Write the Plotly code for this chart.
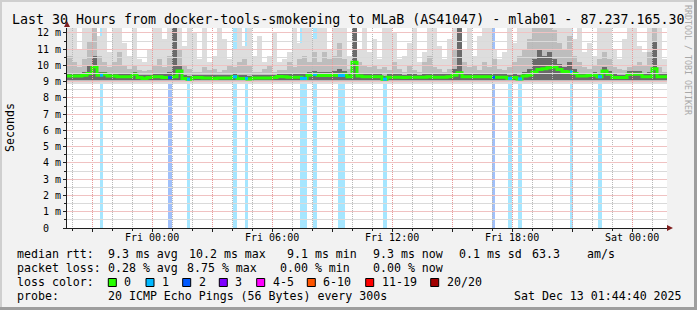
import pandas as pd
import plotly.graph_objects as go

# ---------------- data ----------------
START = "2025-12-11 19:44:40"
END = "2025-12-13 01:44:40"
BIN_MIN = 15  # minutes per smoke column

median_ms = [
    9.35, 9.35, 9.35, 9.40, 9.50, 9.90, 9.40, 9.45, 9.35, 9.35,
    9.30, 9.30, 9.30, 9.45, 9.25, 9.20, 9.25, 9.30, 9.30, 9.25,
    9.25, 9.30, 9.65, 9.20, 9.15, 9.25, 9.25, 9.22, 9.22, 9.20,
    9.22, 9.22, 9.22, 9.30, 9.20, 9.20, 9.17, 9.22, 9.22, 9.22,
    9.22, 9.25, 9.32, 9.30, 9.27, 9.27, 9.27, 9.20, 9.40, 9.45,
    9.38, 9.38, 9.38, 9.40, 9.38, 9.45, 9.30, 10.20, 9.35, 9.30,
    9.30, 9.30, 9.30, 9.15, 9.27, 9.27, 9.27, 9.25, 9.27, 9.27,
    9.27, 9.27, 9.30, 9.27, 9.27, 9.27, 9.30, 9.40, 9.55, 9.30,
    9.30, 9.30, 9.30, 9.30, 9.30, 9.27, 9.27, 9.27, 9.20, 9.25,
    9.17, 9.35, 9.40, 9.60, 9.75, 9.80, 9.85, 9.90, 9.75, 9.62,
    9.60, 9.50, 9.35, 9.35, 9.38, 9.40, 9.30, 9.65, 9.45, 9.25,
    9.25, 9.25, 9.45, 9.45, 9.45, 9.30, 9.30, 9.80, 9.30, 9.30,
]
smoke_p75 = [
    9.55, 9.50, 9.50, 9.60, 10.0, 10.6, 9.60, 9.60, 9.50, 9.50,
    9.50, 9.45, 9.45, 9.60, 9.40, 9.40, 9.40, 9.50, 9.50, 9.45,
    9.60, 12.4, 10.0, 9.40, 9.35, 9.40, 9.40, 9.40, 9.40, 9.40,
    9.40, 9.40, 9.40, 9.45, 9.40, 9.40, 9.35, 9.40, 9.40, 9.40,
    9.40, 9.40, 9.50, 9.45, 9.45, 9.45, 9.50, 9.45, 9.60, 9.65,
    9.60, 9.60, 9.60, 9.65, 9.80, 9.65, 9.50, 12.4, 9.55, 9.50,
    9.50, 9.50, 9.45, 9.35, 9.45, 9.45, 9.45, 9.40, 9.45, 9.45,
    9.40, 9.45, 9.50, 9.45, 9.45, 9.45, 9.50, 9.80, 12.4, 9.50,
    9.45, 9.50, 9.45, 9.50, 9.50, 9.45, 9.45, 9.45, 9.40, 9.45,
    9.40, 9.60, 9.80, 10.4, 11.0, 10.6, 10.8, 10.4, 10.1, 9.90,
    10.2, 9.80, 9.55, 9.55, 9.55, 9.60, 9.50, 9.90, 9.65, 9.45,
    9.40, 9.40, 9.65, 9.65, 9.65, 9.50, 9.60, 11.5, 9.50, 9.45,
]
smoke_p90 = [
    10.6, 10.2, 9.9, 10.4, 11.5, 12.4, 10.6, 10.2, 9.9, 10.2,
    10.8, 10.0, 9.8, 10.0, 9.7, 9.65, 9.7, 10.0, 10.4, 9.9,
    10.6, 12.4, 11.0, 10.0, 9.8, 9.6, 9.6, 9.9, 9.7, 9.8,
    9.6, 9.7, 10.0, 9.9, 10.2, 10.4, 10.0, 9.6, 9.6, 9.8,
    10.0, 9.6, 9.7, 9.7, 10.2, 9.9, 10.4, 10.6, 10.2, 10.8,
    10.2, 10.8, 10.4, 10.6, 11.4, 10.4, 9.8, 12.4, 10.2, 10.0,
    9.9, 10.0, 9.8, 9.9, 9.7, 10.2, 9.8, 9.6, 10.0, 9.7,
    9.6, 10.2, 10.6, 9.9, 9.8, 9.6, 9.8, 11.0, 12.4, 10.2,
    9.9, 10.0, 9.7, 10.2, 9.9, 10.4, 9.8, 9.7, 9.9, 10.2,
    10.6, 11.0, 11.6, 12.4, 12.4, 12.4, 12.4, 12.2, 11.4, 11.0,
    11.8, 10.6, 10.2, 9.9, 9.8, 10.0, 10.4, 10.8, 10.4, 9.9,
    9.8, 9.7, 9.9, 10.0, 10.2, 10.0, 10.8, 12.4, 9.9, 9.6,
]
smoke_max = [
    12.4, 12.4, 11.0, 12.4, 12.4, 12.4, 11.8, 12.4, 10.8, 12.4,
    12.4, 11.4, 10.6, 12.4, 10.4, 10.2, 11.0, 12.4, 12.4, 11.6,
    12.4, 12.4, 12.4, 11.2, 12.4, 12.0, 10.4, 12.4, 10.2, 10.6,
    12.4, 11.6, 10.4, 11.0, 12.4, 11.2, 12.4, 10.6, 11.8, 10.2,
    10.6, 12.0, 10.2, 10.4, 10.8, 12.4, 11.4, 12.4, 12.4, 11.6,
    12.4, 12.4, 11.0, 12.4, 12.4, 12.4, 10.6, 12.4, 11.0, 12.4,
    10.8, 11.6, 10.4, 12.4, 12.4, 12.0, 10.4, 10.6, 11.4, 12.4,
    10.2, 10.8, 12.4, 12.4, 11.2, 10.4, 11.6, 12.4, 12.4, 11.0,
    12.4, 10.6, 11.8, 12.4, 12.4, 11.0, 10.4, 10.8, 12.4, 11.4,
    12.4, 12.4, 12.4, 12.4, 12.4, 12.4, 12.4, 12.4, 12.4, 12.4,
    12.4, 11.6, 12.4, 10.8, 11.4, 10.6, 12.4, 12.4, 12.4, 11.0,
    10.4, 11.6, 12.4, 12.4, 11.2, 10.8, 12.4, 12.4, 12.4, 10.4,
]
# lower ping levels (fairly constant floor)
floor_light = 8.88
floor_mid = 8.98
floor_dark = 9.08

# packet loss events: minutes after start, duration (min), lost pings (of 20)
loss_start_min = [99, 303, 360, 498, 534, 699, 738, 813, 948, 1275, 1323, 1353, 1509, 1593]
loss_dur_min = [9, 12, 9, 12, 9, 21, 12, 21, 12, 9, 12, 12, 9, 12]
loss_count = [1, 2, 1, 1, 1, 1, 1, 1, 1, 2, 1, 1, 1, 1]

LOSS_LABELS = ["0", "1", "2", "3", "4-5", "6-10", "11-19", "20/20"]
LOSS_COLORS = ["#26ff00", "#00b8ff", "#0059ff", "#7e00ff", "#ff00ff", "#ff5500", "#ff0000", "#a10000"]
LOSS_SHADE = {1: "rgb(166,230,255)", 2: "rgb(160,192,250)"}

X_TICK_LABELS = ["", "Fri 00:00", "", "Fri 06:00", "", "Fri 12:00", "", "Fri 18:00", "", "Sat 00:00"]
Y_TICKS = [0, 1, 2, 3, 4, 5, 6, 7, 8, 9, 10, 11, 12]
Y_TICK_LABELS = ["0\u00a0\u00a0", "1 m", "2 m", "3 m", "4 m", "5 m", "6 m", "7 m",
                 "8 m", "9 m", "10 m", "11 m", "12 m"]
Y_MAX = 12.3

TITLE = "Last 30 Hours from docker-tools-smokeping to MLaB (AS41047) - mlab01 - 87.237.165.30"
RTT_ROW = ["median rtt:", "9.3 ms avg", "10.2 ms max", "9.1 ms min", "9.3 ms now", "0.1 ms sd", "63.3", "am/s"]
LOSS_ROW = ["packet loss:", "0.28 % avg", "8.75 % max", "0.00 % min", "0.00 % now"]
PROBE_ROW = ["probe:", "20 ICMP Echo Pings (56 Bytes) every 300s", "Sat Dec 13 01:44:40 2025"]

# ---------------- geometry ----------------
W, H = 697, 310
L, T, PW, PH = 67, 28, 600, 200
FONT = "DejaVu Sans Mono"


def px(x):
    return (x - L) / PW


def py(y):
    return (T + PH - y) / PH


t0 = pd.Timestamp(START)
t_end = pd.Timestamp(END)
n = len(median_ms)
bin_w = pd.Timedelta(minutes=BIN_MIN)
bin_starts = [t0 + bin_w * i for i in range(n)]
bin_centers = [b + bin_w / 2 for b in bin_starts]
bar_width_ms = BIN_MIN * 60 * 1000

fig = go.Figure()

# loss shading bars (full height)
for cnt in sorted(set(loss_count)):
    xs, ws = [], []
    for s, d, c in zip(loss_start_min, loss_dur_min, loss_count):
        if c == cnt:
            xs.append(t0 + pd.Timedelta(minutes=s + d / 2))
            ws.append(d * 60 * 1000)
    fig.add_trace(go.Bar(x=xs, y=[Y_MAX] * len(xs), base=0, width=ws,
                         marker=dict(color=LOSS_SHADE[cnt], line=dict(width=0)),
                         hoverinfo="skip"))

# smoke bands
for top, floor, col in [(smoke_max, floor_light, "#dddddd"),
                        (smoke_p90, floor_mid, "#bdbdbd"),
                        (smoke_p75, floor_dark, "#6a6a6a")]:
    fig.add_trace(go.Bar(x=bin_centers, y=[v - floor for v in top], base=floor,
                         width=bar_width_ms,
                         marker=dict(color=col, line=dict(width=0)),
                         hoverinfo="skip"))

# median line (green, loss 0)
fig.add_trace(go.Scatter(x=bin_starts + [t_end], y=median_ms + [median_ms[-1]],
                         mode="lines", line=dict(color=LOSS_COLORS[0], width=3, shape="hv"),
                         hoverinfo="skip"))

# median segments colored by loss
for cnt in sorted(set(loss_count)):
    xs, ys = [], []
    for s, d, c in zip(loss_start_min, loss_dur_min, loss_count):
        if c == cnt:
            idx = min(int((s + d / 2) // BIN_MIN), n - 1)
            m = median_ms[idx]
            xs += [t0 + pd.Timedelta(minutes=s), t0 + pd.Timedelta(minutes=s + d), None]
            ys += [m, m, None]
    fig.add_trace(go.Scatter(x=xs, y=ys, mode="lines",
                             line=dict(color=LOSS_COLORS[cnt], width=3),
                             hoverinfo="skip"))

# empty traces on two coincident subplots that carry the grids above the data
for ax in ("2", "3"):
    fig.add_trace(go.Scatter(x=[START], y=[None], xaxis="x" + ax, yaxis="y" + ax,
                             mode="lines", hoverinfo="skip"))

# ticks every 3 hours from first full 3h mark
first_tick = pd.Timestamp("2025-12-11 21:00:00")
x_tickvals = [first_tick + pd.Timedelta(hours=3 * i) for i in range(len(X_TICK_LABELS))]

MGRID = "#e79a9a"
GRID = "#b8b8b8"
MGRID_H = "#f0c2c2"
GRID_H = "#dadada"
AXIS = "#1f1f1f"

grid_common = dict(showticklabels=False, ticks="", showline=False, zeroline=False,
                   showgrid=True, gridwidth=1, fixedrange=True, domain=[0, 1])

fig.update_layout(
    width=W, height=H,
    margin=dict(l=L, r=W - L - PW, t=T, b=H - T - PH, pad=0),
    paper_bgcolor="#f2f2f2", plot_bgcolor="rgba(0,0,0,0)",
    showlegend=False, barmode="overlay", bargap=0,
    font=dict(family=FONT, color="#000000"),
    xaxis=dict(
        type="date", range=[START, END], domain=[0, 1], anchor="y",
        tickmode="array", tickvals=x_tickvals, ticktext=X_TICK_LABELS,
        showgrid=False,
        ticks="outside", ticklen=3, tickcolor=AXIS, tickwidth=1,
        showline=True, linecolor=AXIS, linewidth=1, zeroline=False,
        tickfont=dict(family=FONT, size=10, color="#000000"),
        ticklabelstandoff=-3,
        minor=dict(tick0="2025-12-11 20:00:00", dtick=3600000, showgrid=False,
                   ticks="outside", ticklen=2, tickcolor=AXIS),
        fixedrange=True,
    ),
    yaxis=dict(
        range=[0, Y_MAX], domain=[0, 1], anchor="x",
        tickmode="array", tickvals=Y_TICKS, ticktext=Y_TICK_LABELS,
        showgrid=False,
        ticks="outside", ticklen=3, tickcolor=AXIS, tickwidth=1,
        showline=True, linecolor=AXIS, linewidth=1, zeroline=False,
        tickfont=dict(family=FONT, size=10, color="#000000"),
        minor=dict(tick0=0, dtick=0.5, showgrid=False, ticks="outside", ticklen=2,
                   tickcolor=AXIS),
        fixedrange=True,
    ),
    # minor (grey) grid: every hour, every 0.5 ms
    xaxis2=dict(type="date", range=[START, END], anchor="y2", tickmode="linear",
                tick0="2025-12-11 20:00:00", dtick=3600000, gridcolor=GRID,
                griddash="1px,1px", **grid_common),
    yaxis2=dict(range=[0, Y_MAX], anchor="x2", tickmode="linear", tick0=0.5, dtick=1,
                gridcolor=GRID_H, griddash="solid", **grid_common),
    # major (red) grid: every 3 hours, every 1 ms
    xaxis3=dict(type="date", range=[START, END], anchor="y3", tickmode="array",
                tickvals=x_tickvals, gridcolor=MGRID, griddash="1px,1px", **grid_common),
    yaxis3=dict(range=[0, Y_MAX], anchor="x3", tickmode="linear", tick0=1, dtick=1,
                gridcolor=MGRID_H, griddash="solid", **grid_common),
)

ann = []


def text(s, x, y, size=11.6, anchor="left", **kw):
    ann.append(dict(text=s, x=px(x), y=py(y), xref="paper", yref="paper",
                    xanchor=anchor, yanchor="middle", showarrow=False,
                    borderpad=0, font=dict(family=FONT, size=size,
                                           color=kw.pop("color", "#000000")), **kw))


# title
text(TITLE, 348, 19, size=13.3, anchor="center")
# y-axis title
text("Seconds", 10, 128, anchor="center", textangle=-90)
# watermark
text("RRDTOOL / TOBI OETIKER", 688, 60, size=8.3, anchor="center", textangle=90,
     color="#a8a8a8")

rows_y = [254.3, 268.3, 282.3, 296.0]
for s, x in zip(RTT_ROW, [16, 107.3, 188.3, 286, 372.3, 458.3, 530.7, 585.7]):
    text(s, x, rows_y[0])
for s, x in zip(LOSS_ROW, [16, 107.3, 186, 279.3, 372.3]):
    text(s, x, rows_y[1])
text("loss color:", 16, rows_y[2])
for s, x in zip(PROBE_ROW, [16, 107.3, 513.3]):
    text(s, x, rows_y[3])

shapes = []
# white canvas under the data
shapes.append(dict(type="rect", xref="paper", yref="paper", x0=0, x1=1, y0=0, y1=1,
                   fillcolor="#ffffff", line=dict(width=0), layer="below"))

box_x = [108.3, 146, 182.7, 219.3, 256.7, 307.3, 365.7, 430.7]
for lab, col, bx in zip(LOSS_LABELS, LOSS_COLORS, box_x):
    shapes.append(dict(type="rect", xref="paper", yref="paper",
                       x0=px(bx), x1=px(bx + 8), y0=py(286.5), y1=py(278.5),
                       fillcolor=col, line=dict(color="#000000", width=1)))
    text(lab, bx + 15, rows_y[2])

# arrows
shapes.append(dict(type="path", xref="paper", yref="paper",
                   path=f"M {px(64)},{py(27)} L {px(70)},{py(27)} L {px(67)},{py(21)} Z",
                   fillcolor="#801f1f", line=dict(width=0)))
shapes.append(dict(type="path", xref="paper", yref="paper",
                   path=f"M {px(667)},{py(225)} L {px(667)},{py(231)} L {px(673)},{py(228)} Z",
                   fillcolor="#801f1f", line=dict(width=0)))
# frame shading
shapes.append(dict(type="rect", xref="paper", yref="paper", x0=px(0), x1=px(W), y0=py(0), y1=py(2),
                   fillcolor="#cfcfcf", line=dict(width=0)))
shapes.append(dict(type="rect", xref="paper", yref="paper", x0=px(0), x1=px(2), y0=py(0), y1=py(H),
                   fillcolor="#cfcfcf", line=dict(width=0)))
shapes.append(dict(type="rect", xref="paper", yref="paper", x0=px(W - 3), x1=px(W), y0=py(0), y1=py(H),
                   fillcolor="#9e9e9e", line=dict(width=0)))
shapes.append(dict(type="rect", xref="paper", yref="paper", x0=px(0), x1=px(W), y0=py(H - 3), y1=py(H),
                   fillcolor="#9e9e9e", line=dict(width=0)))

fig.update_layout(annotations=ann, shapes=shapes)
fig.write_html("out.html")
